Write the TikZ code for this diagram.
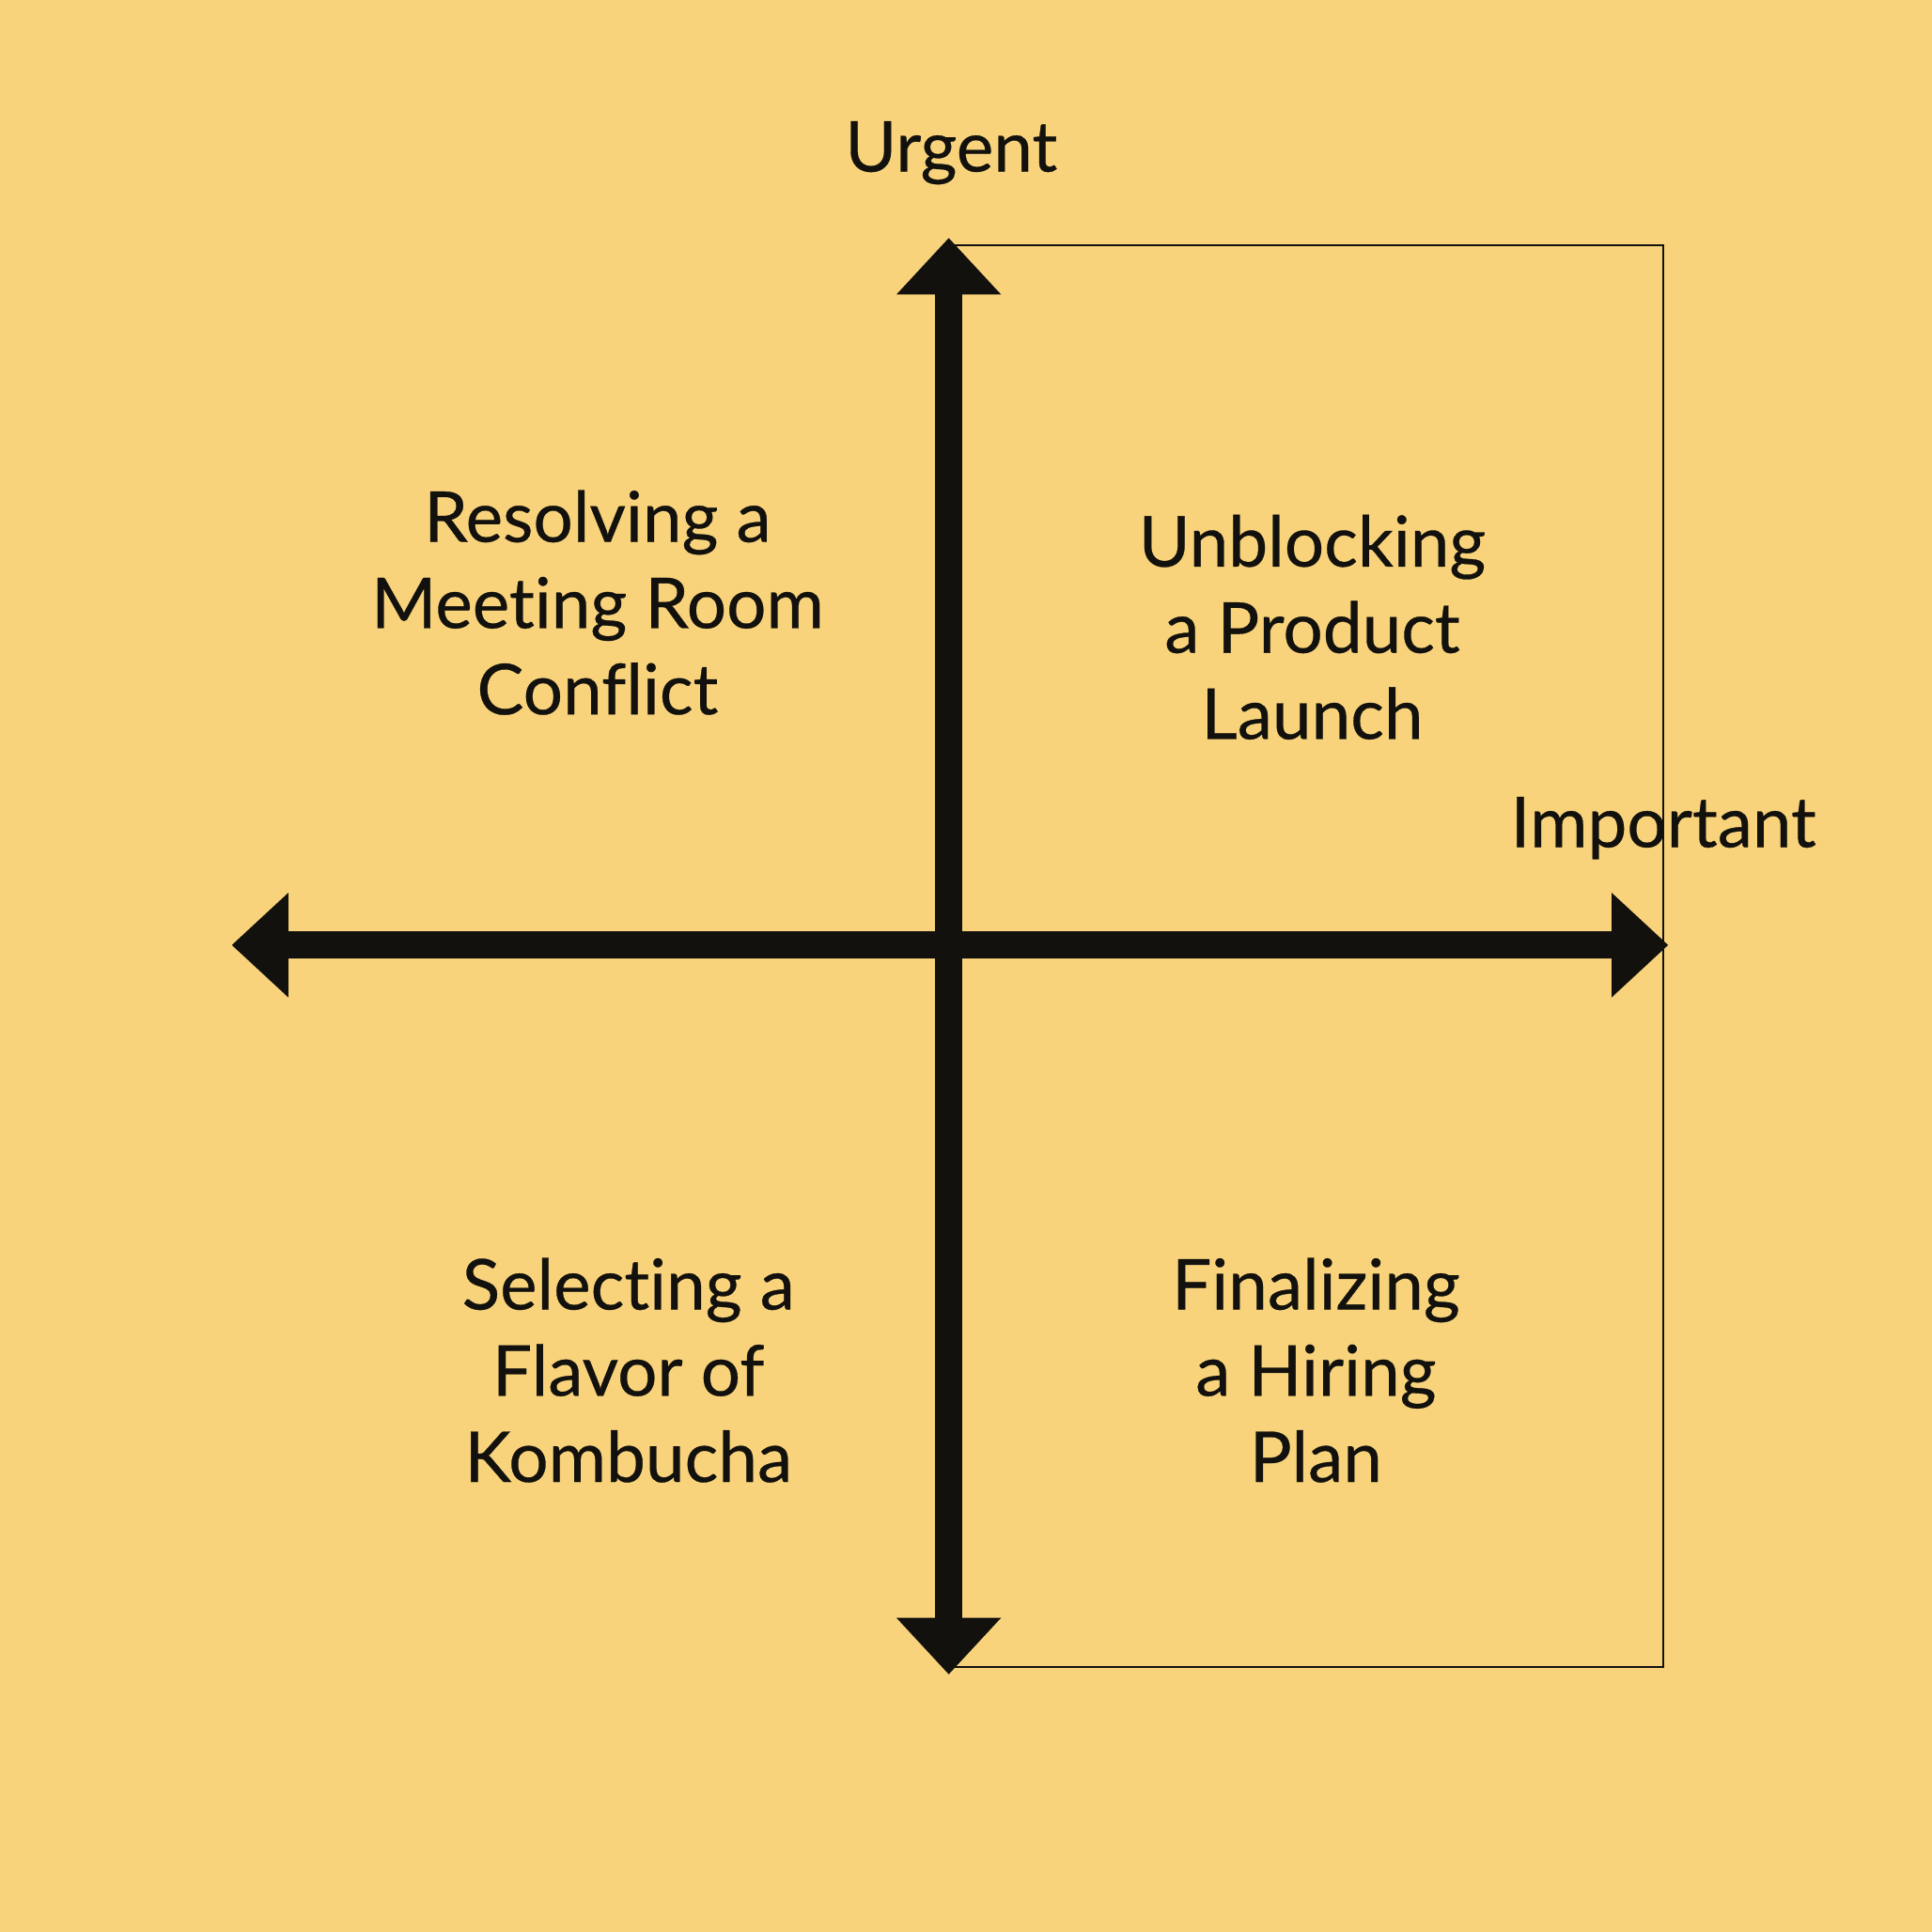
\documentclass[tikz,border=0pt]{standalone}
\usepackage{fontspec}
\setmainfont{Lato}[Ligatures=NoCommon,BoldFont=Lato,BoldFeatures={FakeBold=0.4}]
\usetikzlibrary{arrows.meta}
\definecolor{bg}{RGB}{248,211,123}
\definecolor{ink}{RGB}{18,17,13}
\begin{document}
\begin{tikzpicture}[x=0.01cm,y=-0.01cm,
  axis/.style={ink,line width=0.22cm,{Triangle[length=4.6mm,width=8.2mm]}-{Triangle[length=4.6mm,width=8.2mm]}},
  frameline/.style={ink,line width=0.02cm},
  lbl/.style={ink,font=\fontsize{16.2}{19.9}\selectfont\bfseries,align=center,inner sep=0pt}]
\fill[bg] (0,0) rectangle (1568,1568);
\useasboundingbox (0,0) rectangle (1568,1568);
\coordinate (o) at (770,767);
\coordinate (top) at (770,193);
\coordinate (bot) at (770,1359);
\coordinate (lft) at (188,767);
\coordinate (rgt) at (1354,767);
\coordinate (fa) at (770,199);
\coordinate (fb) at (1350,1353);
\draw[frameline] (fa) rectangle (fb);
\draw[axis] (top) -- (bot);
\draw[axis] (lft) -- (rgt);
\node[lbl] (urg) at (772,124) {Urgent};
\node[lbl] (imp) at (1350,672) {Important};
\node[lbl] (q1) at (485,489) {Resolving a\\Meeting Room\\Conflict};
\node[lbl] (q2) at (1065,509) {Unblocking\\a Product\\Launch};
\node[lbl] (q3) at (510,1112) {Selecting a\\Flavor of\\Kombucha};
\node[lbl] (q4) at (1068,1112) {Finalizing\\a Hiring\\Plan};
\end{tikzpicture}
\end{document}
